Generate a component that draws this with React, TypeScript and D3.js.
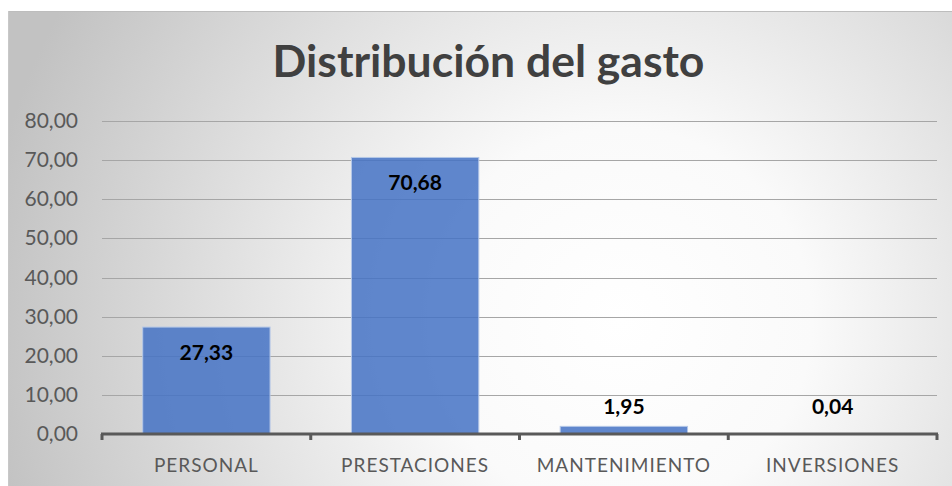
import React from "react";
import * as d3 from "d3";

const categories = ["PERSONAL", "PRESTACIONES", "MANTENIMIENTO", "INVERSIONES"];
const values = [27.33, 70.68, 1.95, 0.04];
const yTicks = [0, 10, 20, 30, 40, 50, 60, 70, 80];
const title = "Distribución del gasto";

const W = 952;
const H = 486;
const fmt = (v: number) => v.toFixed(2).replace(".", ",");

export default function App() {
  const x = d3
    .scaleBand<string>()
    .domain(categories)
    .range([102, 937])
    .paddingInner(0.39)
    .paddingOuter(0.195);
  const y = d3.scaleLinear().domain([0, 80]).range([434, 121]);
  const step = x.step();
  const boundaries = d3.range(categories.length + 1).map((i) => 102 + i * step);
  const font = "Lato, Carlito, 'Open Sans', sans-serif";

  return (
    <svg
      width={W}
      height={H}
      style={{ position: "absolute", left: 0, top: 0, display: "block" }}
      fontFamily={font}
    >
      <defs>
        <radialGradient id="bg" gradientUnits="userSpaceOnUse" cx={620} cy={320} r={640}>
          <stop offset="0" stopColor="#ffffff" />
          <stop offset="0.3" stopColor="#fafafa" />
          <stop offset="1" stopColor="#c2c2c2" />
        </radialGradient>
      </defs>
      <rect x={0} y={0} width={W} height={H} fill="#ffffff" />
      <rect x={8} y={11} width={W - 8} height={H - 11} fill="url(#bg)" />
      <line x1={8} x2={W} y1={11.5} y2={11.5} stroke="#bdbdbd" strokeWidth={1} />
      <line x1={8.5} x2={8.5} y1={11} y2={H} stroke="#c8c8c8" strokeWidth={1} />

      <text
        x={488.5}
        y={77}
        textAnchor="middle"
        fontSize={44.5}
        fontWeight={700}
        fill="#404040"
      >
        {title}
      </text>

      {yTicks.map((t) => (
        <g key={t}>
          {t > 0 && (
            <line
              x1={102}
              x2={937}
              y1={Math.round(y(t)) + 0.5}
              y2={Math.round(y(t)) + 0.5}
              stroke="#a6a6a6"
              strokeWidth={1}
            />
          )}
          <text
            x={78}
            y={y(t) + 7}
            textAnchor="end"
            fontSize={21}
            fill="#595959"
          >
            {fmt(t)}
          </text>
        </g>
      ))}

      {categories.map((c, i) => {
        const v = values[i];
        const bx = x(c)!;
        const by = y(v);
        const bh = y(0) - by;
        const big = v > 10;
        const ly = big ? by + 33 : Math.min(by - 12, y(0) - 20);
        return (
          <g key={c}>
            <rect
              x={bx}
              y={by}
              width={x.bandwidth()}
              height={bh}
              fill="rgb(68,114,196)"
              fillOpacity={0.85}
              stroke="#b4c7e7"
              strokeWidth={1}
            />
            <text
              x={bx + x.bandwidth() / 2}
              y={ly}
              textAnchor="middle"
              fontSize={21}
              fontWeight={700}
              fill="#000000"
            >
              {fmt(v)}
            </text>
            <text
              x={bx + x.bandwidth() / 2}
              y={472}
              textAnchor="middle"
              fontSize={19}
              letterSpacing={1}
              fill="#595959"
            >
              {c}
            </text>
          </g>
        );
      })}

      <line x1={101} x2={938} y1={434} y2={434} stroke="#595959" strokeWidth={3} />
      {boundaries.map((bx, i) => (
        <line key={i} x1={bx} x2={bx} y1={434} y2={440} stroke="#595959" strokeWidth={3} />
      ))}
    </svg>
  );
}
